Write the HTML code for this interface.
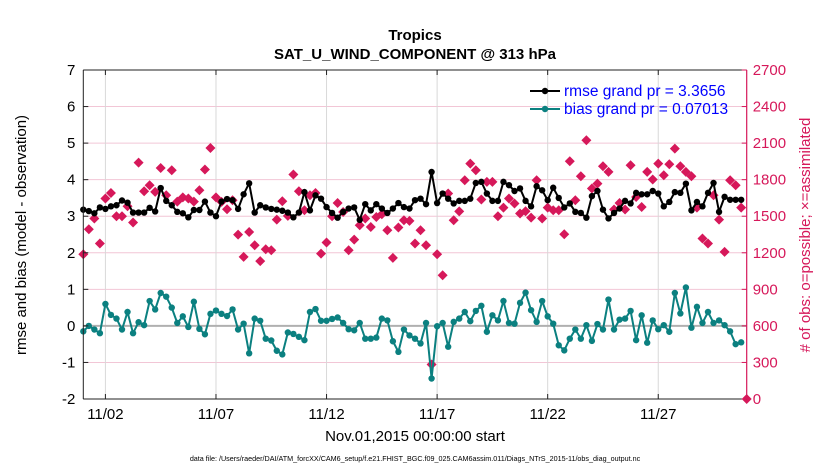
<!DOCTYPE html>
<html><head><meta charset="utf-8"><style>
body{margin:0;background:#fff}
svg{display:block;font-family:"Liberation Sans",sans-serif}
</style></head><body>
<svg id="chart" width="830" height="470" viewBox="0 0 830 470">
<text x="415" y="40" text-anchor="middle" font-size="15" font-weight="bold">Tropics</text>
<text x="415" y="59" text-anchor="middle" font-size="15" font-weight="bold">SAT_U_WIND_COMPONENT @ 313 hPa</text>
<g id="grid"></g>
<g id="marks"></g>
<g id="axes"></g>
<text transform="translate(26,235) rotate(-90)" text-anchor="middle" font-size="15">rmse and bias (model - observation)</text>
<text transform="translate(810,235) rotate(-90)" text-anchor="middle" font-size="15" fill="#d6185a"># of obs: o=possible; ×=assimilated</text>
<text x="415" y="441" text-anchor="middle" font-size="15">Nov.01,2015 00:00:00 start</text>
<text x="415" y="461" text-anchor="middle" font-size="7.2">data file: /Users/raeder/DAI/ATM_forcXX/CAM6_setup/f.e21.FHIST_BGC.f09_025.CAM6assim.011/Diags_NTrS_2015-11/obs_diag_output.nc</text>
<g>
<line x1="530" y1="91" x2="560" y2="91" stroke="#000" stroke-width="2"/><circle cx="545" cy="91" r="3.2" fill="#000"/>
<text x="564" y="96" font-size="15.5" fill="#0000ff">rmse grand pr = 3.3656</text>
<line x1="530" y1="109" x2="560" y2="109" stroke="#0b8080" stroke-width="2"/><circle cx="545" cy="109" r="3.2" fill="#0b8080"/>
<text x="564" y="114" font-size="15.5" fill="#0000ff">bias grand pr = 0.07013</text>
</g>
</svg>
<script>
const rmse=[3.18,3.14,3.08,3.24,3.2,3.27,3.3,3.43,3.37,3.1,3.1,3.1,3.23,3.13,3.77,3.42,3.3,3.12,3.08,2.97,3.17,3.17,3.4,3.1,3.0,3.4,3.47,3.44,3.2,3.6,3.9,3.1,3.3,3.24,3.2,3.18,3.15,3.1,2.97,3.1,
3.66,3.16,3.57,3.48,3.25,3.09,2.96,3.12,3.21,3.24,2.9,3.33,3.16,3.33,3.21,3.09,3.21,3.36,3.25,3.21,3.44,3.48,3.33,4.21,3.36,3.62,3.48,3.35,3.42,3.42,3.48,3.91,3.94,3.62,3.42,3.42,3.94,3.85,3.69,3.76,
3.42,3.27,3.82,3.71,3.44,3.78,3.5,3.24,3.35,3.12,3.09,2.96,3.55,3.69,3.18,2.94,3.09,3.21,3.42,3.35,3.64,3.6,3.6,3.69,3.62,3.27,3.39,3.66,3.64,3.89,3.16,3.39,3.27,3.64,3.91,3.12,3.53,3.45,3.45,3.45];
const bias=[-0.15,0,-0.1,-0.2,0.6,0.3,0.2,-0.1,0.38,-0.2,0.1,0.02,0.68,0.45,0.9,0.8,0.5,0.08,0.26,-0.03,0.66,-0.08,-0.23,0.33,0.42,0.33,0.27,0.45,-0.1,0.06,-0.75,0.2,0.14,-0.35,-0.4,-0.68,-0.78,-0.18,-0.22,-0.3,
-0.39,0.38,0.46,0.14,0.14,0.19,0.23,0.08,-0.09,-0.12,0.08,-0.35,-0.35,-0.32,0.2,0.15,-0.42,-0.71,-0.1,-0.26,-0.35,-0.48,0.08,-1.44,-0.01,0.08,-0.57,0.11,0.2,0.38,0.13,0.41,0.55,-0.16,0.29,0.15,0.68,0.08,0.06,0.63,
0.91,0.43,0.11,0.68,0.26,0.06,-0.53,-0.67,-0.35,-0.1,-0.35,0.02,-0.41,0.05,-0.1,0.72,-0.1,0.17,0.2,0.41,-0.39,0.29,-0.46,0.15,-0.09,0.02,-0.16,0.9,0.34,1.05,-0.05,0.52,0.08,0.38,0.08,0.15,0.02,-0.15,-0.5,-0.45];
const obsCount=[1188,1393,1481,1276,1645,1691,1500,1500,1582,1448,1940,1705,1754,1700,1896,1672,1877,1620,1655,1645,1620,1713,1883,2060,1655,1618,1557,1631,1349,1166,1371,1262,1131,1229,1221,1472,1623,1503,1842,1705,
1549,1672,1691,1193,1284,1500,1609,1535,1221,1308,1426,1481,1412,1494,1516,1385,1158,1407,1467,1462,1276,1385,1262,283,1188,1016,1686,1467,1540,1795,1932,1877,1637,1782,1782,1500,1571,1645,1604,1522,
1541,1489,1795,1481,1571,1549,1549,1352,1951,1631,1828,2123,1727,1768,1910,1864,1555,1609,1555,1918,1658,1576,1864,1801,1932,1836,1927,2055,1910,1864,1828,1571,1317,1276,1672,1472,1207,1795,1754,1571,0];
const leftTicks=[-2,-1,0,1,2,3,4,5,6,7];
const rightTicks=[0,300,600,900,1200,1500,1800,2100,2400,2700];
const xTickDays=[1,6,11,16,21,26];
const xTickLabels=["11/02","11/07","11/12","11/17","11/22","11/27"];

const X0=83.3,X1=746.7,Y0=399,Y1=70,NS="http://www.w3.org/2000/svg";
const xDay=d=>X0+(X1-X0)*d/30;
const xIdx=i=>xDay(i/4);
const yL=v=>Y0-(v+2)/9*(Y0-Y1);
const yR=c=>Y0-c/2700*(Y0-Y1);
function mk(tag,attrs,parent){const e=document.createElementNS(NS,tag);for(const k in attrs)e.setAttribute(k,attrs[k]);parent.appendChild(e);return e;}
const grid=document.getElementById('grid'),marks=document.getElementById('marks'),axes=document.getElementById('axes');
leftTicks.forEach(v=>{if(v>-2&&v<7&&v!==0){const l=mk('line',{x1:X0,x2:X1,y1:yL(v),y2:yL(v),stroke:'#f2c6d6','stroke-width':1},grid);

}});
xTickDays.forEach(d=>{const l=mk('line',{x1:xDay(d),x2:xDay(d),y1:Y1,y2:Y0,stroke:'#d8d8d8','stroke-width':1},grid);

});
const zl=mk('line',{x1:X0,x2:X1,y1:yL(0),y2:yL(0),stroke:'#b0b0b0','stroke-width':2},grid);


obsCount.forEach((c,i)=>{const x=xIdx(i),y=yR(c);const p=mk('path',{d:`M${x} ${y-5}L${x+5} ${y}L${x} ${y+5}L${x-5} ${y}Z`,fill:'#d6185a'},marks);

});
function series(arr,color,name){
const pl=mk('polyline',{points:arr.map((v,i)=>xIdx(i)+','+yL(v)).join(' '),fill:'none',stroke:color,'stroke-width':2},marks);


arr.forEach((v,i)=>{const c=mk('circle',{cx:xIdx(i),cy:yL(v),r:3.2,fill:color},marks);

});}
series(bias,'#0b8080','bias');
series(rmse,'#000000','rmse');
mk('line',{x1:X0,x2:X1,y1:Y0,y2:Y0,stroke:'#222','stroke-width':1},axes);
mk('line',{x1:X0,x2:X1,y1:Y1,y2:Y1,stroke:'#222','stroke-width':1},axes);
mk('line',{x1:X0,x2:X0,y1:Y1,y2:Y0,stroke:'#222','stroke-width':1},axes);
mk('line',{x1:X1,x2:X1,y1:Y1,y2:Y0,stroke:'#d6185a','stroke-width':1.2},axes);
leftTicks.forEach(v=>{mk('line',{x1:X0,x2:X0+5,y1:yL(v),y2:yL(v),stroke:'#222'},axes);
const t=mk('text',{x:X0-8,y:yL(v)+5,'text-anchor':'end','font-size':15},axes);t.textContent=v;

});
rightTicks.forEach(c=>{mk('line',{x1:X1-5,x2:X1,y1:yR(c),y2:yR(c),stroke:'#d6185a'},axes);
const t=mk('text',{x:X1+6,y:yR(c)+5,'font-size':15,fill:'#d6185a'},axes);t.textContent=c;

});
xTickDays.forEach((d,k)=>{mk('line',{x1:xDay(d),x2:xDay(d),y1:Y0,y2:Y0-5,stroke:'#222'},axes);mk('line',{x1:xDay(d),x2:xDay(d),y1:Y1,y2:Y1+5,stroke:'#222'},axes);
const t=mk('text',{x:xDay(d),y:Y0+20,'text-anchor':'middle','font-size':15},axes);t.textContent=xTickLabels[k];

});
</script>
</body></html>
